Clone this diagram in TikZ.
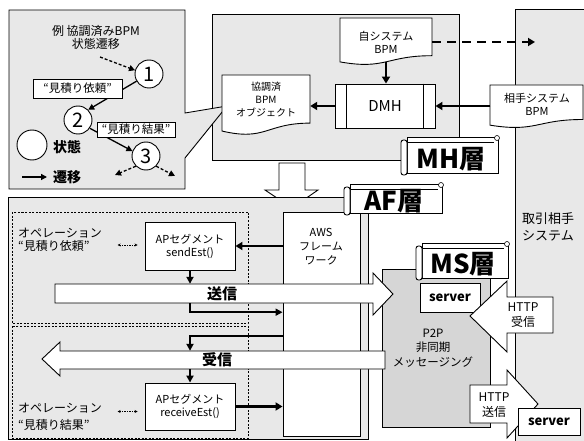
\documentclass[tikz,border=0pt]{standalone}
\usepackage{fontspec}
\setmainfont{Noto Sans CJK JP}
\usetikzlibrary{arrows.meta,calc}
\definecolor{stip}{gray}{0.91}
\definecolor{stipdark}{gray}{0.84}
\tikzset{
  every node/.style={inner sep=0pt},
  stipbox/.style={draw=black, fill=stip, line width=0.9},
  wbox/.style={draw=black, fill=white, line width=0.9},
  opbox/.style={draw=black, dash pattern=on 2pt off 1.5pt, line width=0.7},
  fatarr/.style={-{Triangle[length=7pt,width=8pt]}, line width=2.6},
  midarr/.style={-{Triangle[length=7pt,width=7pt]}, line width=1.8},
  thinarr/.style={-{Triangle[length=6pt,width=6pt]}, line width=1.3},
  dasharr/.style={-{Triangle[length=6pt,width=6pt]}, line width=1.3, dash pattern=on 3pt off 2pt},
  dblarr/.style={{Stealth[length=3pt,width=3pt]}-{Stealth[length=3pt,width=3pt]}, line width=0.6, dash pattern=on 1.5pt off 1pt},
  t10/.style={font=\fontsize{10}{13}\selectfont, align=center},
  t11/.style={font=\fontsize{11}{13}\selectfont, align=center},
  t12/.style={font=\fontsize{12}{14}\selectfont, align=center},
  tbold/.style={font=\fontsize{15}{15}\selectfont\bfseries},
  bantxt/.style={font=\fontsize{26}{26}\selectfont\bfseries},
  stcirc/.style={circle, draw=black, fill=white, line width=0.9, minimum size=28pt, font=\fontsize{20}{20}\selectfont},
}
% document shape: x1, y1, x2, h
\newcommand\docshape[4]{%
  \draw[wbox] (#1,#2) -- (#3,#2) -- (#3,{#2+0.802*#4})
    .. controls ({(#1+#3)/2},{#2+0.802*#4}) and ({(#1+#3)/2},{#2+1.107*#4}) ..
    (#1,{#2+0.934*#4}) -- cycle;}
% scroll banner: xa, yt, xb, yb
\newcommand\scrollbanner[4]{%
  \draw[wbox] (#1,#2) rectangle (#3,#4);
  \draw[line width=0.6] (#1,{#2+5}) -- ({#3-4},{#2+5});
  \draw[wbox, rounded corners=2.5pt] ({#1-6},{#2+3}) rectangle (#1,{#4+2});
  \draw[wbox, line width=0.6] ({#3-1},{#2+1}) circle (2.5pt);}
\begin{document}
\begin{tikzpicture}[x=1pt,y=-1pt]
\useasboundingbox (0,0) rectangle (584,441);
\fill[white] (0,0) rectangle (584,441);

% ---------- partner system area ----------
\draw[stipbox] (515,9) rectangle (600,460);
\node[font=\fontsize{13}{17}\selectfont, align=center] (partner) at (548,227) {取引相手\\システム};

% ---------- MH layer ----------
\draw[stipbox] (212,14) rectangle (459,160);

% legend callout
\draw[stipbox] (9,10) -- (185,10) -- (185,113) -- (227,106) -- (185,158) -- (185,189) -- (9,189) -- cycle;
\node[font=\fontsize{12}{13}\selectfont, align=center] (ex) at (96,37.5) {例\ 協調済みBPM\\状態遷移};
\node[stcirc] (s1) at (149,74) {1};
\node[stcirc] (s2) at (78,120) {2};
\node[stcirc] (s3) at (146,156) {3};
\coordinate (din) at (100,57);
\coordinate (dl) at (115,175);
\coordinate (dr) at (175,176);
\draw[dasharr] (din) -- (s1.165);
\draw[thinarr] (s1.210) -- (s2.45);
\draw[thinarr] (s2.-35) -- (s3.160);
\draw[dasharr] (s3.225) -- (dl);
\draw[dasharr] (s3.-45) -- (dr);
\node[wbox, minimum width=89pt, minimum height=19pt, font=\fontsize{11.5}{12}\selectfont] (lab1) at (77.5,88.5) {“見積り依頼”};
\node[wbox, minimum width=78pt, minimum height=15pt, font=\fontsize{11.5}{12}\selectfont] (lab2) at (136,129.5) {“見積り結果”};
\node[circle, draw=black, fill=white, line width=0.9, minimum size=30pt] (lc) at (32,145) {};
\node[font=\fontsize{14}{14}\selectfont\bfseries] (lstate) at (67,147) {状態};
\node[font=\fontsize{14}{14}\selectfont\bfseries] (ltrans) at (67,177) {遷移};
\coordinate (la) at (22,177);
\draw[thinarr] (la) -- ++(25,0);

% documents and DMH
\docshape{340}{18}{432}{47}
\node[t11, minimum width=92pt, minimum height=40pt] (own) at (386,42) {自システム\\BPM};
\docshape{222}{75}{310}{60}
\node[t10, minimum width=88pt, minimum height=50pt] (coord) at (266,100) {協調済\\BPM\\オブジェクト};
\node[wbox, minimum width=100pt, minimum height=44pt, font=\fontsize{15}{15}\selectfont] (dmh) at (385,106) {DMH};
\draw[line width=0.6] ($(dmh.north west)+(12,0)$) -- ($(dmh.south west)+(12,0)$);
\draw[line width=0.6] ($(dmh.north east)+(-12,0)$) -- ($(dmh.south east)+(-12,0)$);
\coordinate (dashend) at (535,42);
\draw[fatarr, dash pattern=on 9pt off 6pt] (own.east) -- (dashend);
\docshape{490}{85}{583}{43}
\node[t11, minimum width=93pt, minimum height=38pt] (other) at (537,104) {相手システム\\BPM};
\draw[fatarr] (own.south) -- (own.south |- dmh.north);
\draw[fatarr] (dmh.west) -- (coord.east |- dmh.west);
\draw[fatarr] (other.west |- dmh.east) -- (dmh.east);

\scrollbanner{407}{137}{498}{173}
\node[bantxt] (mhl) at (451,159) {MH層};

% big down arrow
\draw[wbox] (279,163) -- (305,163) -- (305,190) -- (318,190) -- (292,208) -- (265,190) -- (279,190) -- cycle;
\coordinate (downarr) at (292,185);

% ---------- AF layer ----------
\draw[stipbox] (8,197) rectangle (368,439);
\draw[opbox] (12,212) rectangle (248,323);
\draw[opbox] (12,326) rectangle (248,438);
\node[wbox, minimum width=77pt, minimum height=224pt] (aws) at (321.5,324) {};
\node[t11, font=\fontsize{11}{14}\selectfont] (awst) at (321,247) {AWS\\フレーム\\ワーク};
\node[wbox, t11, minimum width=90pt, minimum height=48pt] (ap1) at (190,246) {APセグメント\\sendEst()};
\node[wbox, t11, minimum width=90pt, minimum height=47pt] (ap2) at (190,406.5) {APセグメント\\receiveEst()};
\node[anchor=west, align=left, font=\fontsize{12}{13}\selectfont] (op1) at (18,239.5) {オペレーション\\“見積り依頼”};
\node[anchor=west, align=left, font=\fontsize{12}{17}\selectfont] (op2) at (18,416.5) {オペレーション\\“見積り結果”};
\draw[dblarr] ($(ap1.west)+(-27,-1)$) -- ($(ap1.west)+(-7,-1)$);
\draw[dblarr] ($(ap2.west)+(-27,5)$) -- ($(ap2.west)+(-7,5)$);
\draw[fatarr] (aws.west |- ap1.east) -- (ap1.east);

% ---------- MS layer ----------
\draw[draw=black, fill=stipdark, line width=0.9] (382,269) rectangle (490,427);
\node[font=\fontsize{11.5}{14.5}\selectfont, align=center] (p2p) at (433,348) {P2P\\非同期\\メッセージング};

% send / receive big arrows
\draw[wbox] (55,284) -- (373,284) -- (373,273) -- (393,294) -- (373,315) -- (373,303) -- (55,303) -- cycle;
\node[minimum width=318pt, minimum height=19pt] (sendb) at (214,293.5) {};
\node[tbold] (sendl) at (222,294) {送信};
\draw[wbox] (385,351) -- (60,351) -- (60,342) -- (42,359) -- (60,376) -- (60,369) -- (385,369) -- cycle;
\node[minimum width=325pt, minimum height=18pt] (recvb) at (222.5,360) {};
\node[tbold] (recvl) at (217,360) {受信};

\draw[midarr] (ap1.south) -- (ap1.south |- sendb.north);
\draw[midarr] (ap1.south |- sendb.south) -- ($(ap1.south |- sendb.south)+(0,9)$) -- ($(aws.west |- sendb.south)+(0,9)$);
\draw[midarr] ($(aws.west |- recvb.north)+(0,-15)$) -- ($(ap1.south |- recvb.north)+(0,-15)$) -- (ap1.south |- recvb.north);
\draw[midarr] (ap2.north |- recvb.south) -- (ap2.north);
\draw[fatarr] (ap2.east) -- (ap2.east -| aws.west);

\scrollbanner{350}{184}{442}{213}
\node[bantxt] (afl) at (394,201) {AF層};

\scrollbanner{422}{243}{508}{278}
\node[bantxt] (msl) at (463,264) {MS層};

\node[wbox, minimum width=60pt, minimum height=29pt, font=\fontsize{13}{13}\selectfont\bfseries] (srv1) at (450,297.5) {server};
\draw[wbox] (553,297) -- (507,297) -- (507,281) -- (470,316) -- (507,352) -- (507,333) -- (553,333) -- cycle;
\node[t12, font=\fontsize{12}{15}\selectfont] (httpr) at (523,315.5) {HTTP\\受信};
\draw[wbox] (470,385) -- (507,385) -- (507,370) -- (538,404) -- (507,438) -- (507,423) -- (470,423) -- cycle;
\node[t12, font=\fontsize{12}{15}\selectfont] (https) at (494,405.5) {HTTP\\送信};
\node[wbox, minimum width=62pt, minimum height=27pt, font=\fontsize{13}{13}\selectfont\bfseries] (srv2) at (549,421.5) {server};
\end{tikzpicture}
\end{document}
